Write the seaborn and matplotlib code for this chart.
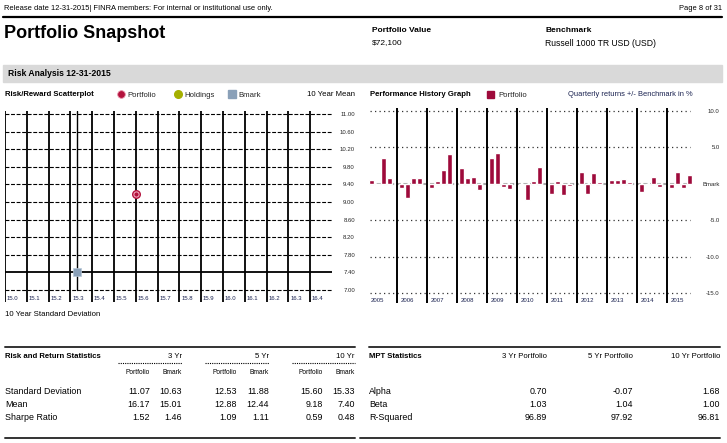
import numpy as np
import pandas as pd
import matplotlib
matplotlib.use("Agg")
import matplotlib.pyplot as plt
import seaborn as sns
from matplotlib.patches import Rectangle
from matplotlib.lines import Line2D

sns.set_theme(style="white")
plt.rcParams['font.family'] = ['Liberation Sans', 'DejaVu Sans']

# ---------------- data ----------------
years = ['2005', '2006', '2007', '2008', '2009', '2010', '2011', '2012', '2013', '2014', '2015']
q1 = [0.5, -0.55, -0.55, 2.15, 3.5, -0.1, -1.4, 1.6, 0.5, -1.1, -0.55]
q2 = [-0.15, -1.9, 0.4, 0.8, 4.2, -2.2, 0.4, -1.4, 0.5, -0.1, 1.6]
q3 = [3.5, 0.8, 1.9, 0.9, -0.4, 0.4, -1.5, 1.5, 0.65, 0.9, -0.55]
q4 = [0.8, 0.8, 4.1, -0.8, -0.7, 2.3, -0.3, 0.25, 0.25, -0.4, 1.2]
bar_ticks = [10.0, 5.0, 0.0, -5.0, -10.0, -15.0]
bar_tick_labels = ['10.0', '5.0', 'Bmark', '-5.0', '-10.0', '-15.0']

scatter_names = ['Portfolio', 'Bmark']
std_10yr = [15.60, 15.33]
mean_10yr = [9.18, 7.40]
x_ticks = [15.0, 15.1, 15.2, 15.3, 15.4, 15.5, 15.6, 15.7, 15.8, 15.9, 16.0, 16.1, 16.2, 16.3, 16.4]
y_ticks = [7.00, 7.40, 7.80, 8.20, 8.60, 9.00, 9.40, 9.80, 10.20, 10.60, 11.00]

rr_rows = ['Standard Deviation', 'Mean', 'Sharpe Ratio']
rr_3yr_port = ['11.07', '16.17', '1.52']
rr_3yr_bmark = ['10.63', '15.01', '1.46']
rr_5yr_port = ['12.53', '12.88', '1.09']
rr_5yr_bmark = ['11.88', '12.44', '1.11']
rr_10yr_port = ['15.60', '9.18', '0.59']
rr_10yr_bmark = ['15.33', '7.40', '0.48']

mpt_rows = ['Alpha', 'Beta', 'R-Squared']
mpt_3yr = ['0.70', '1.03', '96.89']
mpt_5yr = ['-0.07', '1.04', '97.92']
mpt_10yr = ['1.68', '1.00', '96.81']

# ---------------- figure ----------------
W, H = 727, 443
fig = plt.figure(figsize=(W / 100, H / 100), dpi=100)
fig.patch.set_facecolor('white')

LBL = 5.6   # small labels
ROW = 6.4   # table rows

def fx(x):
    return x / W

def fy(y):
    return 1 - y / H

def txt(x, y, s, size=LBL, weight='normal', ha='left', color='black'):
    fig.text(fx(x), fy(y), s, fontsize=size, fontweight=weight, ha=ha, va='center', color=color)

def hline(x0, x1, y, lw=1.5, color='black', ls='-'):
    fig.add_artist(Line2D([fx(x0), fx(x1)], [fy(y), fy(y)], lw=lw, color=color, ls=ls,
                          transform=fig.transFigure))

def add_ax(left, top, right, bottom):
    return fig.add_axes([fx(left), fy(bottom), (right - left) / W, (bottom - top) / H])

def legend_item(handle, label, x_start, y):
    lg = fig.legend([handle], [label], loc='center left', bbox_to_anchor=(fx(x_start), fy(y)),
                    frameon=False, fontsize=LBL, borderpad=0, borderaxespad=0,
                    handlelength=1.0, handleheight=1.0, handletextpad=0.35)
    return lg

# header
txt(4, 9, 'Release date 12-31-2015| FINRA members: For internal or institutional use only.', size=5.45)
txt(722, 9, 'Page 8 of 31', size=5.45, ha='right')
hline(3, 722, 17, lw=1.6)
txt(4, 34, 'Portfolio Snapshot', size=13, weight='bold')
txt(372, 30, 'Portfolio Value', size=6.0, weight='bold')
txt(372, 43, '$72,100', size=6.0)
txt(545, 30, 'Benchmark', size=6.0, weight='bold')
txt(545, 43, 'Russell 1000 TR USD (USD)', size=6.2)
fig.add_artist(Rectangle((fx(3), fy(82)), fx(722) - fx(3), fy(65) - fy(82),
                         transform=fig.transFigure, color='#d9d9d9', zorder=0))
txt(8, 73, 'Risk Analysis 12-31-2015', size=6.2, weight='bold')

# ---------------- scatter ----------------
axs = add_ax(5, 111, 332, 302)
axs.set_xlim(15.0, 16.5)
axs.set_ylim(6.727, 11.068)
for yv in y_ticks:
    if abs(yv - mean_10yr[1]) < 1e-9:
        continue
    axs.axhline(yv, color='black', lw=0.8, ls=(0, (3.5, 1.5)), zorder=1)
axs.axhline(mean_10yr[1], color='black', lw=1.3, zorder=2)
for xv in x_ticks:
    axs.axvline(xv, color='black', lw=1.3, zorder=2)
    axs.text(xv + 0.008, 6.80, f'{xv:.1f}', fontsize=4.3, ha='left', va='center', color='#1a2250')
axs.axvline(std_10yr[1], ymin=(7.0 - 6.727) / (11.068 - 6.727), ymax=1, color='black', lw=1.0, zorder=2)
sdf = pd.DataFrame({'name': scatter_names, 'std': std_10yr, 'mean': mean_10yr})
sns.scatterplot(data=sdf[sdf.name == 'Portfolio'], x='std', y='mean', ax=axs, color='#b3123d',
                s=42, edgecolor='#b3123d', linewidth=0, zorder=5, legend=False)
sns.scatterplot(data=sdf[sdf.name == 'Portfolio'], x='std', y='mean', ax=axs, color='#b3123d',
                s=14, edgecolor='#f4b8c8', linewidth=0.7, zorder=6, legend=False)
sns.scatterplot(data=sdf[sdf.name == 'Bmark'], x='std', y='mean', ax=axs, color='#8aa0b8',
                marker='s', s=30, edgecolor='#b8c8d8', linewidth=0.5, zorder=6, legend=False)
axs.set_xlabel('')
axs.set_ylabel('')
axs.set_xticks([])
axs.yaxis.tick_right()
axs.set_yticks(y_ticks)
axs.set_yticklabels([f'{v:.2f}' for v in y_ticks], fontsize=4.3)
axs.tick_params(axis='y', length=0, pad=16.5)
for lab in axs.get_yticklabels():
    lab.set_ha('right')
for sp in axs.spines.values():
    sp.set_visible(False)
axs.set_facecolor('none')

txt(5, 95, 'Risk/Reward Scatterplot', weight='bold')
legend_item(Line2D([], [], marker='o', ls='', markersize=5.5, markerfacecolor='#b3123d',
                   markeredgecolor='#e890a8', markeredgewidth=0.6), 'Portfolio', 116.8, 95)
legend_item(Line2D([], [], marker='o', ls='', markersize=5.5, markerfacecolor='#a5b000',
                   markeredgecolor='#a5b000'), 'Holdings', 174.1, 95)
legend_item(Line2D([], [], marker='s', ls='', markersize=5.5, markerfacecolor='#8aa0b8',
                   markeredgecolor='#8aa0b8'), 'Bmark', 228.1, 95)
txt(355, 95, '10 Year Mean', ha='right')
txt(5, 314, '10 Year Standard Deviation')

# ---------------- bar chart ----------------
axb = add_ax(366.7, 108, 696.7, 303)
rows = []
for i, yr in enumerate(years):
    for q, vals in enumerate([q1, q2, q3, q4]):
        rows.append({'pos': round(i + 0.15 + 0.2 * q, 3), 'val': vals[i]})
bdf = pd.DataFrame(rows)
sns.barplot(data=bdf, x='pos', y='val', native_scale=True, orient='x', color='#9e0a3b',
            width=0.85, errorbar=None, ax=axb, saturation=1, zorder=4)
axb.set_xlim(0, 11)
axb.set_ylim(-16.37, 10.41)
for yv in bar_ticks:
    if yv == 0:
        axb.hlines(yv, 0.11, 10.78, color='#a8a8a8', lw=1.5, ls=(0, (2, 1.2)), zorder=3)
    else:
        axb.hlines(yv, 0.11, 10.78, color='#333333', lw=0.9, ls=(0, (1, 2.6)), zorder=3)
for i in range(1, len(years)):
    axb.axvline(i, color='black', lw=1.4, zorder=5)
for i, yr in enumerate(years):
    axb.text(i + 0.12, -16.0, yr, fontsize=4.3, ha='left', va='center', color='#1a2250')
axb.set_xlabel('')
axb.set_ylabel('')
axb.set_xticks([])
axb.yaxis.tick_right()
axb.set_yticks(bar_ticks)
axb.set_yticklabels(bar_tick_labels, fontsize=4.3)
axb.tick_params(axis='y', length=0, pad=16.5)
for lab in axb.get_yticklabels():
    lab.set_ha('right')
for sp in axb.spines.values():
    sp.set_visible(False)
axb.set_facecolor('none')

txt(370, 95, 'Performance History Graph', weight='bold')
fig.legend([Rectangle((0, 0), 1, 1, color='#9e0a3b')], ['Portfolio'], loc='center left',
           bbox_to_anchor=(fx(487), fy(95)), frameon=False, fontsize=LBL, borderpad=0,
           borderaxespad=0, handlelength=0.9, handleheight=0.9, handletextpad=0.6)
txt(568, 95, 'Quarterly returns +/- Benchmark in %', size=5.45, color='#1a2250')

# ---------------- tables ----------------
hline(5, 355, 347, lw=1.4, color='#333333')
hline(5, 355, 438, lw=1.4, color='#333333')
txt(5, 357, 'Risk and Return Statistics', weight='bold')
groups = [('3 Yr', 118, 150, 182, rr_3yr_port, rr_3yr_bmark),
          ('5 Yr', 205, 237, 269, rr_5yr_port, rr_5yr_bmark),
          ('10 Yr', 292, 323, 355, rr_10yr_port, rr_10yr_bmark)]
for name, x0, xp, xb, pv, bv in groups:
    txt(xb, 356, name, ha='right')
    hline(x0, xb, 363, lw=0.8, color='black', ls=(0, (1, 1)))
    txt(xp, 373, 'Portfolio', size=4.8, ha='right')
    txt(xb, 373, 'Bmark', size=4.8, ha='right')
    for r in range(3):
        txt(xp, 391 + r * 13.5, pv[r], size=ROW, ha='right')
        txt(xb, 391 + r * 13.5, bv[r], size=ROW, ha='right')
for r, rn in enumerate(rr_rows):
    txt(5, 391 + r * 13.5, rn, size=ROW)

hline(369, 720, 347, lw=1.4, color='#333333')
hline(360, 720, 438, lw=1.4, color='#333333')
txt(369, 357, 'MPT Statistics', weight='bold')
for name, xr, vals in [('3 Yr Portfolio', 547, mpt_3yr), ('5 Yr Portfolio', 633, mpt_5yr),
                       ('10 Yr Portfolio', 720, mpt_10yr)]:
    txt(xr, 357, name, ha='right')
    for r in range(3):
        txt(xr, 391 + r * 13.5, vals[r], size=ROW, ha='right')
for r, rn in enumerate(mpt_rows):
    txt(369, 391 + r * 13.5, rn, size=ROW)

fig.savefig('out.png', dpi=100, facecolor='white')
